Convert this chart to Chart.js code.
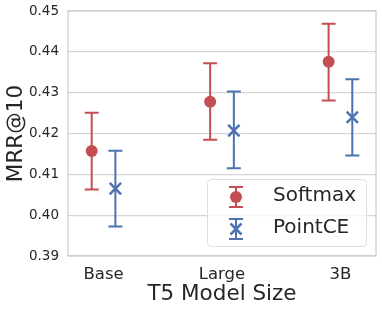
<!DOCTYPE html>
<html>
<head>
<meta charset="utf-8">
<script src="https://cdn.jsdelivr.net/npm/chart.js@4"></script>
<style>
html,body{margin:0;padding:0;background:#fff;}
#wrap{width:382px;height:311px;}
</style>
</head>
<body>
<div id="wrap"><canvas id="c" width="382" height="311"></canvas></div>
<script>
const categories = ['Base', 'Large', '3B'];
const seriesNames = ['Softmax', 'PointCE'];
const softmaxMean = [0.4157, 0.4278, 0.4376];
const softmaxLow  = [0.4063, 0.4185, 0.4281];
const softmaxHigh = [0.4251, 0.4372, 0.4469];
const pointceMean = [0.4065, 0.4207, 0.4240];
const pointceLow  = [0.3972, 0.4115, 0.4146];
const pointceHigh = [0.4158, 0.4303, 0.4333];
const yTicks = [0.39, 0.40, 0.41, 0.42, 0.43, 0.44, 0.45];

const RED = '#c44e52', BLUE = '#4c72b0', TXT = '#262626', GRID = '#d5d5d5';
const FONT = 'DejaVu Sans';
const DODGE = 0.1;

function mkData(mean, low, high, off) {
  return mean.map((v, i) => ({x: i + off, y: v, lo: low[i], hi: high[i]}));
}

const errorBars = {
  id: 'errorBars',
  beforeDatasetsDraw(chart) {
    const ctx = chart.ctx, xs = chart.scales.x, ys = chart.scales.y;
    chart.data.datasets.forEach(ds => {
      ctx.save();
      ctx.strokeStyle = ds.borderColor;
      ctx.lineWidth = 2;
      ds.data.forEach(d => {
        const px = xs.getPixelForValue(d.x);
        const yl = ys.getPixelForValue(d.lo), yh = ys.getPixelForValue(d.hi);
        ctx.beginPath();
        ctx.moveTo(px, yl); ctx.lineTo(px, yh);
        ctx.moveTo(px - 7, yl); ctx.lineTo(px + 7, yl);
        ctx.moveTo(px - 7, yh); ctx.lineTo(px + 7, yh);
        ctx.stroke();
      });
      ctx.restore();
    });
  },
  afterDatasetsDraw(chart) {
    const ctx = chart.ctx, a = chart.chartArea;
    ctx.save();
    ctx.strokeStyle = '#cccccc';
    ctx.lineWidth = 1.2;
    ctx.strokeRect(a.left, a.top, a.right - a.left, a.bottom - a.top);
    ctx.restore();
  },
  afterDraw(chart) {
    const ctx = chart.ctx;
    const bx = 207.5, by = 179.5, bw = 159, bh = 67, r = 4;
    ctx.save();
    ctx.beginPath();
    ctx.moveTo(bx + r, by);
    ctx.arcTo(bx + bw, by, bx + bw, by + bh, r);
    ctx.arcTo(bx + bw, by + bh, bx, by + bh, r);
    ctx.arcTo(bx, by + bh, bx, by, r);
    ctx.arcTo(bx, by, bx + bw, by, r);
    ctx.closePath();
    ctx.fillStyle = 'rgba(255,255,255,0.8)';
    ctx.fill();
    ctx.strokeStyle = '#dddddd';
    ctx.lineWidth = 1;
    ctx.stroke();
    const rows = [
      {name: seriesNames[0], color: RED, style: 'circle', y: 197},
      {name: seriesNames[1], color: BLUE, style: 'cross', y: 229}
    ];
    const ix = 236;
    rows.forEach(rw => {
      ctx.strokeStyle = rw.color;
      ctx.lineWidth = 2;
      ctx.beginPath();
      ctx.moveTo(ix, rw.y - 10); ctx.lineTo(ix, rw.y + 10);
      ctx.moveTo(ix - 7, rw.y - 10); ctx.lineTo(ix + 7, rw.y - 10);
      ctx.moveTo(ix - 7, rw.y + 10); ctx.lineTo(ix + 7, rw.y + 10);
      ctx.stroke();
      if (rw.style === 'circle') {
        ctx.fillStyle = rw.color;
        ctx.beginPath(); ctx.arc(ix, rw.y, 6, 0, Math.PI * 2); ctx.fill();
      } else {
        ctx.lineWidth = 2.5;
        ctx.beginPath();
        ctx.moveTo(ix - 5.5, rw.y - 5.5); ctx.lineTo(ix + 5.5, rw.y + 5.5);
        ctx.moveTo(ix + 5.5, rw.y - 5.5); ctx.lineTo(ix - 5.5, rw.y + 5.5);
        ctx.stroke();
      }
      ctx.fillStyle = TXT;
      ctx.font = '20px "' + FONT + '"';
      ctx.textBaseline = 'middle';
      ctx.textAlign = 'left';
      ctx.fillText(rw.name, 273, rw.y - 1);
    });
    ctx.restore();
  }
};

new Chart(document.getElementById('c'), {
  type: 'scatter',
  data: {
    datasets: [
      {
        label: seriesNames[0],
        data: mkData(softmaxMean, softmaxLow, softmaxHigh, -DODGE),
        backgroundColor: RED, borderColor: RED,
        pointStyle: 'circle', pointRadius: 6, pointBorderWidth: 0, pointHoverRadius: 6
      },
      {
        label: seriesNames[1],
        data: mkData(pointceMean, pointceLow, pointceHigh, DODGE),
        backgroundColor: BLUE, borderColor: BLUE,
        pointStyle: 'crossRot', pointRadius: 8, pointBorderWidth: 2.5, pointHoverRadius: 8
      }
    ]
  },
  options: {
    responsive: false,
    devicePixelRatio: 1,
    animation: false,
    events: [],
    layout: {autoPadding: false, padding: {left: 0, right: 6, top: 11, bottom: 0}},
    plugins: {legend: {display: false}, tooltip: {enabled: false}},
    scales: {
      x: {
        type: 'linear', min: -0.3, max: 2.3,
        afterBuildTicks: s => { s.ticks = categories.map((c, i) => ({value: i})); },
        afterFit: s => { s.height = 55; s.paddingLeft = 0; s.paddingRight = 0; },
        grid: {display: false, drawTicks: false},
        border: {display: false},
        ticks: {
          callback: v => categories[v],
          font: {family: FONT, size: 16.5}, color: TXT, padding: 9, maxRotation: 0, autoSkip: false
        },
        title: {display: true, text: 'T5 Model Size', font: {family: FONT, size: 21.5}, color: TXT, padding: {top: 0, bottom: 4}}
      },
      y: {
        min: 0.39, max: 0.45,
        afterBuildTicks: s => { s.ticks = yTicks.map(v => ({value: v})); },
        afterFit: s => { s.width = 68; s.paddingTop = 0; s.paddingBottom = 0; },
        grid: {color: GRID, lineWidth: 1.2, drawTicks: false},
        border: {display: false},
        ticks: {
          callback: v => v.toFixed(2),
          font: {family: FONT, size: 13.5}, color: TXT, padding: 9
        },
        title: {display: true, text: 'MRR@10', font: {family: FONT, size: 21.5}, color: TXT, padding: {top: 4, bottom: 0}}
      }
    }
  },
  plugins: [errorBars]
});
</script>
</body>
</html>
